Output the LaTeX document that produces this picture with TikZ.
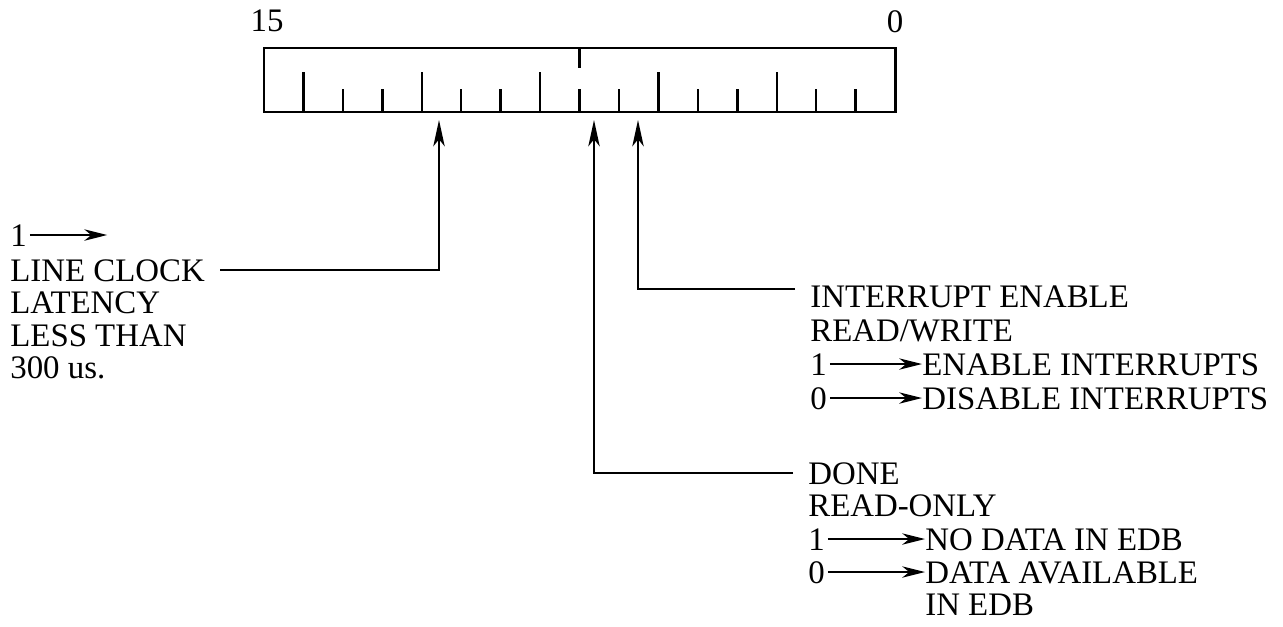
\documentclass[tikz,border=0pt]{standalone}
\usepackage{fontspec}
\setmainfont{Liberation Serif}
\usetikzlibrary{arrows.meta}

\tikzset{
    lbl/.style={anchor=base west, inner sep=0pt, text height=12.5pt, text depth=0pt,
        font=\fontsize{18.7}{20}\selectfont},
    pin/.style={line width=1.1pt, -{Stealth[length=15pt, width=6.5pt, inset=4pt]}},
    maps/.style={line width=0.9pt, -{Stealth[length=13pt, width=6.5pt, inset=4pt]}},
}

\begin{document}
\begin{tikzpicture}[x=0.02cm, y=-0.02cm]
    \useasboundingbox (0,0) rectangle (1283,626);
    % Register, bits 15 .. 0
    \draw[line width=1.7pt] (264,48) rectangle (895,112);
    \node[lbl, anchor=base] (msb) at (267,31) {15};
    \node[lbl, anchor=base] (lsb) at (895,32) {0};
    % Octal group ticks and bit ticks
    \foreach \k in {1,4,7,10,13}
        \draw[line width=1.4pt] (264+39.44*\k,112) -- (264+39.44*\k,72);
    \foreach \k in {2,3,5,6,8,9,11,12,14,15}
        \draw[line width=1.4pt] (264+39.44*\k,112) -- (264+39.44*\k,89);
    \draw[line width=1.4pt] (264+39.44*8,48) -- (264+39.44*8,68);

    % Bit positions pointed at
    \coordinate (bit11) at (439,120);
    \coordinate (bit7) at (594,120);
    \coordinate (bit6) at (638,120);

    % Bit 11
    \node[lbl] (clk1) at (10,246) {1};
    \path (clk1.east) ++(80,0) coordinate (clktip);
    \draw[maps] ([xshift=1.5pt]clk1.east) -- (clktip);
    \node[lbl] (clk) at (10,281) {LINE CLOCK};
    \node[lbl] (lat) at (10,313) {LATENCY};
    \node[lbl] (less) at (10,346) {LESS THAN};
    \node[lbl] (us) at (10,378) {300 us.};
    \draw[pin] ([xshift=0.3cm]clk.east) -| (bit11);

    % Bit 6
    \node[lbl] (ie) at (810,307) {INTERRUPT ENABLE};
    \node[lbl] (rw) at (810,341) {READ/WRITE};
    \node[lbl] (ie1) at (810,375) {1};
    \node[lbl] (ieon) at (922,375) {ENABLE INTERRUPTS};
    \node[lbl] (ie0) at (810,409) {0};
    \node[lbl] (ieoff) at (922,409) {DISABLE INTERRUPTS};
    \draw[maps] ([xshift=1.5pt]ie1.east) -- (ieon);
    \draw[maps] ([xshift=1.5pt]ie0.east) -- (ieoff);
    \draw[pin] ([xshift=-0.3cm, yshift=4pt]ie.west) -| (bit6);

    % Bit 7
    \node[lbl] (done) at (808,484) {DONE};
    \node[lbl] (ro) at (808,516) {READ-ONLY};
    \node[lbl] (dn1) at (808,550) {1};
    \node[lbl] (nodata) at (925,550) {NO DATA IN EDB};
    \node[lbl] (dn0) at (808,583) {0};
    \node[lbl] (avail) at (925,583) {DATA AVAILABLE};
    \node[lbl] (inedb) at (925,615) {IN EDB};
    \draw[maps] ([xshift=1.5pt]dn1.east) -- (nodata);
    \draw[maps] ([xshift=1.5pt]dn0.east) -- (avail);
    \draw[pin] ([xshift=-0.3cm]done.west) -| (bit7);
\end{tikzpicture}
\end{document}
